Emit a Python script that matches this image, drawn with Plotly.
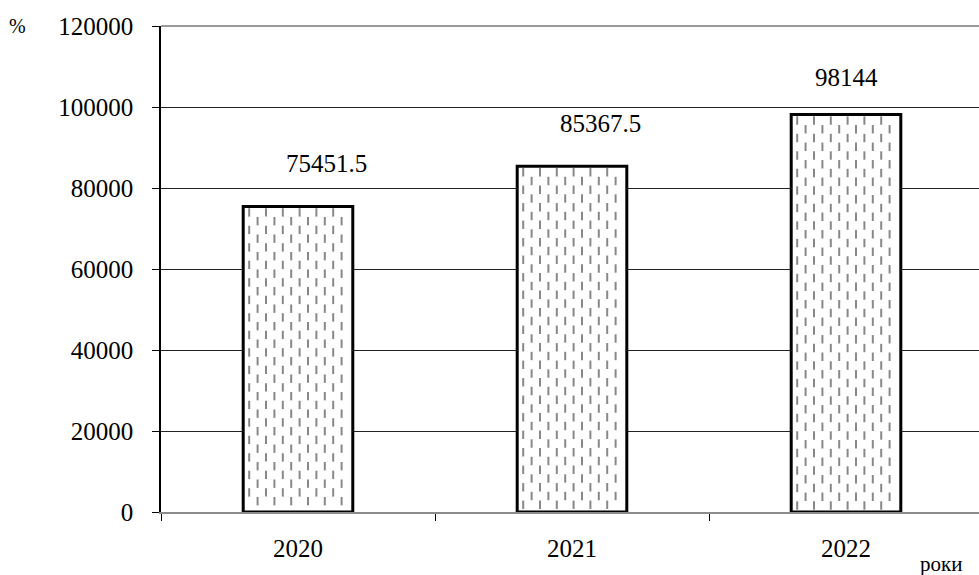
import plotly.graph_objects as go

# Data
years = ["2020", "2021", "2022"]
values = [75451.5, 85367.5, 98144]
value_labels = ["75451.5", "85367.5", "98144"]
y_ticks = [0, 20000, 40000, 60000, 80000, 100000, 120000]
y_tick_text = ["0", "20000", "40000", "60000", "80000", "100000", "120000"]

# Geometry helpers (pixel sizes converted to axis units)
PLOT_H = 486.0          # pixel height of the plotting area
Y_MAX = 120000.0
CAT_PX = 274.0          # pixels per category
BAR_W = 0.40            # bar width in category units
px_y = Y_MAX / PLOT_H   # y units per pixel
px_x = 1.0 / CAT_PX     # x units per pixel

FONT = "'Times New Roman', 'Liberation Serif', serif"

fig = go.Figure()

fig.add_trace(go.Bar(
    x=list(range(len(years))),
    y=values,
    width=BAR_W,
    marker=dict(color="white", line=dict(color="black", width=3)),
    hoverinfo="skip",
))

# Staggered vertical-dash fill inside each bar
dx, dy, dash_len = 8.4, 17.5, 6.0
mx, my = [], []
for i, v in enumerate(values):
    left_px = (i - BAR_W / 2) / px_x
    right_px = (i + BAR_W / 2) / px_x
    top_px = v / px_y
    col = 0
    xp = left_px + 6
    while xp < right_px - 3:
        yc = top_px - 3 - dash_len / 2 - (dy / 2 if col % 2 else 0)
        while yc - dash_len / 2 > 2:
            mx.append(xp * px_x)
            my.append(yc * px_y)
            yc -= dy
        xp += dx
        col += 1

fig.add_trace(go.Scatter(
    x=mx, y=my, mode="markers",
    marker=dict(symbol="line-ns", size=dash_len,
                line=dict(color="#888888", width=2)),
    hoverinfo="skip",
))

# Value labels above bars
label_xshift = [28, 28, 0]
label_yshift = [27, 27, 22]
for i, (v, t) in enumerate(zip(values, value_labels)):
    fig.add_annotation(x=i, y=v, text=t, showarrow=False,
                       xanchor="center", yanchor="bottom",
                       xshift=label_xshift[i], yshift=label_yshift[i],
                       font=dict(family=FONT, size=25, color="black"))

# Axis titles
fig.add_annotation(xref="paper", yref="paper", x=-0.175, y=1.0,
                   text="%", showarrow=False, xanchor="center", yanchor="middle",
                   font=dict(family=FONT, size=20, color="black"))
fig.add_annotation(xref="paper", yref="paper", x=0.953, y=0, yshift=-52,
                   text="роки", showarrow=False, xanchor="center", yanchor="middle",
                   font=dict(family=FONT, size=21, color="black"))

# Frame line along the top
fig.add_shape(type="line", xref="paper", yref="paper", x0=0, x1=1, y0=1, y1=1,
              line=dict(color="#9a9a9a", width=2), layer="above")

fig.update_layout(
    width=979, height=575,
    margin=dict(l=161, r=0, t=26, b=63),
    paper_bgcolor="white", plot_bgcolor="white",
    showlegend=False,
    font=dict(family=FONT),
    xaxis=dict(
        range=[-0.5, 2 + (979 - 161 - 2 * CAT_PX - 137) / CAT_PX],
        tickmode="array", tickvals=list(range(len(years))), ticktext=years,
        showgrid=False, zeroline=False,
        showline=True, linecolor="#8c8c8c", linewidth=2,
        ticks="outside", ticklen=0,
        minor=dict(tickvals=[-0.5, 0.5, 1.5, 2.5], ticks="outside",
                   ticklen=7, tickcolor="black", tickwidth=1, showgrid=False),
        ticklabelstandoff=13,
        tickfont=dict(family=FONT, size=25, color="black"),
    ),
    yaxis=dict(
        range=[0, Y_MAX], tickmode="array", tickvals=y_ticks, ticktext=y_tick_text,
        showgrid=True, gridcolor="#222222", gridwidth=1,
        zeroline=False,
        showline=True, linecolor="black", linewidth=1.5,
        ticks="outside", ticklen=7, tickcolor="black", tickwidth=1,
        ticklabelstandoff=14,
        tickfont=dict(family=FONT, size=25, color="black"),
    ),
)

fig.write_html("out.html")
